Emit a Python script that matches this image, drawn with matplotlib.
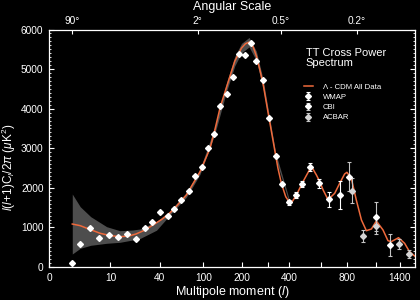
import numpy as np
import matplotlib.pyplot as plt

plt.rcParams['font.family'] = ['Liberation Sans', 'DejaVu Sans']
plt.rcParams['mathtext.fontset'] = 'custom'
plt.rcParams['mathtext.rm'] = 'Liberation Sans'
plt.rcParams['mathtext.it'] = 'Liberation Sans:italic'

# multipole axis: position of each labelled l on the axis
scale_l = np.array([0, 2, 10, 40, 100, 200, 400, 800, 1400, 1700])
scale_pos = np.array([0, 23.3, 61.5, 111, 154.5, 193, 240, 298, 351, 371.6])
scale_t = scale_l ** 0.3


def fwd(l):
    l = np.clip(np.asarray(l, dtype=float), 0, None)
    return np.interp(l ** 0.3, scale_t, scale_pos)


def inv(p):
    return np.interp(p, scale_pos, scale_t) ** (1 / 0.3)


# Lambda-CDM model curve
model_l = [2, 3, 4.6, 7, 10, 14, 18, 22, 28, 34, 42, 50, 55, 72, 94, 114, 124,
           138, 155, 178, 199, 212, 225, 240, 252, 265, 279, 300, 322, 335,
           345, 362, 384, 405, 420, 442, 481, 523, 540, 567, 590, 614, 650,
           701, 741, 782, 802, 843, 892, 944, 996, 1051, 1107, 1186, 1247,
           1289, 1385, 1469, 1539, 1615]
model_v = [1086, 1044, 951, 850, 791, 766, 783, 834, 935, 1061, 1205, 1356,
           1457, 1819, 2407, 2998, 3420, 4040, 4560, 5200, 5530, 5640, 5680,
           5560, 5330, 5000, 4620, 3900, 3200, 2800, 2500, 2114, 1776, 1624,
           1660, 1819, 2155, 2468, 2500, 2324, 2155, 1945, 1700, 1862, 2114,
           2349, 2392, 2240, 1692, 1187, 917, 960, 1162, 935, 665, 640, 740,
           598, 386, 278]

# cosmic variance band
band_l = [2, 3, 4.8, 8.8, 13.7, 20, 24.5, 37, 50, 72, 94, 124, 155, 178, 199,
          225, 252, 279, 300, 335, 405]
band_lo = [328, 472, 548, 599, 624, 682, 720, 930, 1300, 1760, 2340, 3330,
           4450, 5080, 5410, 5560, 5210, 4500, 3800, 2730, 1580]
band_hi = [1844, 1523, 1271, 1018, 917, 935, 960, 1150, 1410, 1880, 2470,
           3510, 4670, 5320, 5650, 5800, 5450, 4740, 4000, 2870, 1670]

# data points
wmap_l = [2, 3, 4.6, 6.6, 9.6, 13, 17, 22, 28, 33, 40, 48, 56, 65, 76, 85, 97,
          110, 124, 138, 155, 172, 191, 211, 230, 252, 279, 304, 335, 364,
          401, 438, 477, 525, 583, 654, 741]
wmap_v = [93, 589, 985, 733, 808, 765, 826, 700, 993, 1137, 1397, 1288, 1457,
          1700, 1920, 2306, 2526, 2998, 3360, 4067, 4362, 4792, 5388, 5355,
          5666, 5204, 4724, 3756, 2811, 2104, 1634, 1819, 2089, 2526, 2114,
          1710, 1819]
wmap_err = [0] * 30 + [60, 70, 80, 90, 110, 190, 350]

cbi_l = [821, 1107, 1268]
cbi_v = [2281, 1271, 556]
cbi_err = [360, 365, 270]

acbar_l = [854, 960, 1107, 1391, 1529]
acbar_v = [1927, 783, 1036, 581, 321]
acbar_err = [310, 160, 200, 125, 105]

xticks = [0, 10, 40, 100, 200, 300, 400, 600, 800, 1100, 1400]
xticklabels = ['0', '10', '40', '100', '200', '', '400', '', '800', '', '1400']
top_l = [2, 90, 360, 900]
top_labels = ['90°', '2°', '0.5°', '0.2°']

fig = plt.figure(figsize=(4.2, 3.0), dpi=100, facecolor='black')
ax = fig.add_axes([49 / 420, 33 / 300, 366 / 420, 237.5 / 300])
ax.set_facecolor('black')
ax.set_xscale('function', functions=(fwd, inv))
ax.set_xlim(0, 1620)
ax.set_ylim(0, 6000)

ax.fill_between(band_l, band_lo, band_hi, color='#4d4d4d', lw=0)
model_line, = ax.plot(model_l, model_v, color='#ef6a3c', lw=1.1)

wm = ax.errorbar(wmap_l, wmap_v, yerr=wmap_err, fmt='D', ms=3, mfc='white',
                 mec='white', ecolor='white', elinewidth=0.8, capsize=1.5,
                 capthick=0.8)
cb = ax.errorbar(cbi_l, cbi_v, yerr=cbi_err, fmt='D', ms=3, mfc='white',
                 mec='white', ecolor='#c4c4c4', elinewidth=0.8, capsize=1.5,
                 capthick=0.8)
ac = ax.errorbar(acbar_l, acbar_v, yerr=acbar_err, fmt='D', ms=3,
                 mfc='#d4d4d4', mec='#d4d4d4', ecolor='#c4c4c4',
                 elinewidth=0.8, capsize=1.5, capthick=0.8)

for s in ax.spines.values():
    s.set_color('white')
    s.set_linewidth(0.9)

ax.set_xticks(xticks, labels=xticklabels)
ax.set_yticks(range(0, 6001, 1000))
ax.set_yticks(range(0, 6001, 100), minor=True)
ax.tick_params(axis='x', which='major', direction='in', length=3.5, width=0.8,
               colors='white', labelsize=7.3, pad=4, top=False)
ax.tick_params(axis='x', which='minor', bottom=False, top=False)
ax.tick_params(axis='y', which='major', direction='in', length=3.5, width=0.8,
               colors='white', labelsize=7.3, pad=4, left=True, right=True)
ax.tick_params(axis='y', which='minor', direction='in', length=1.6, width=0.6,
               colors='white', left=True, right=True)

ax.set_xlabel(r'Multipole moment ($l$)', color='white', fontsize=9, labelpad=1)
ax.set_ylabel(r'$l(l\!+\!1)\mathrm{C}_l/2\pi\ (\mu\mathrm{K}^2)$', color='white',
              fontsize=8.5)
ax.yaxis.set_label_coords(-0.085, 0.42)

# angular scale axis on top
ax2 = ax.twiny()
ax2.set_xscale('function', functions=(fwd, inv))
ax2.set_xlim(ax.get_xlim())
ax2.patch.set_visible(False)
for s in ax2.spines.values():
    s.set_visible(False)
ax2.set_xticks(top_l, labels=top_labels)
ax2.tick_params(axis='x', which='major', direction='in', length=3, width=0.8,
                colors='white', labelsize=7.3, pad=2.5)
ax2.tick_params(axis='x', which='minor', top=False, bottom=False)
ax2.set_xlabel('Angular Scale', color='white', fontsize=9, labelpad=4)

ax.text(0.702, 0.922, 'TT Cross Power\nSpectrum', transform=ax.transAxes,
        color='white', fontsize=8, va='top', ha='left', linespacing=0.95)

leg = ax.legend([model_line, wm, cb, ac],
                ['Λ - CDM All Data', 'WMAP', 'CBI', 'ACBAR'],
                loc='upper left', bbox_to_anchor=(0.697, 0.773), frameon=False,
                fontsize=5.6, labelcolor='white', handlelength=1.1,
                handletextpad=1.3, labelspacing=0.35, borderpad=0,
                borderaxespad=0)

fig.savefig('out.png', dpi=100, facecolor='black')
